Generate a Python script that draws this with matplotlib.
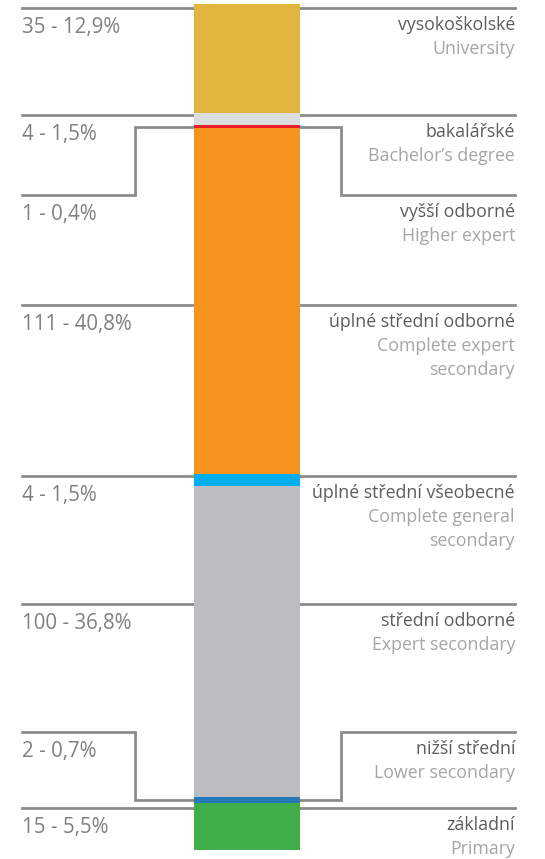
import numpy as np
import matplotlib
matplotlib.use('Agg')
import matplotlib.pyplot as plt

# data, top of the bar first
labels_cz = ['vysokoškolské', 'bakalářské', 'vyšší odborné', 'úplné střední odborné',
             'úplné střední všeobecné', 'střední odborné', 'nižší střední', 'základní']
labels_en = ['University', 'Bachelor\u2019s degree', 'Higher expert', 'Complete expert\nsecondary',
             'Complete general\nsecondary', 'Expert secondary', 'Lower secondary', 'Primary']
counts = [35, 4, 1, 111, 4, 100, 2, 15]
pct_labels = ['12,9%', '1,5%', '0,4%', '40,8%', '1,5%', '36,8%', '0,7%', '5,5%']
colors = ['#e2b53e', '#dcdddf', '#ec1c24', '#f6921e', '#00aeef', '#bcbdc0', '#2479b6', '#3fae49']

# layout (pixels, from top)
W, H = 545, 859
label_y = [8, 115, 195, 305, 476, 604, 732, 808]
stepped = {2, 6}
x_left, x_right = 22, 515
bar_l, bar_r, bar_top, bar_bot = 194, 300, 4, 850
step_l, step_r = 135, 341

line_c = '#8c8c8f'
left_c = '#808083'
cz_c = '#5c5c5f'
en_c = '#a5a5a8'
plt.rcParams['font.family'] = ['Open Sans', 'DejaVu Sans']

fig = plt.figure(figsize=(W / 100, H / 100), dpi=100)
ax = fig.add_axes([0, 0, 1, 1])
ax.set_xlim(0, W)
ax.set_ylim(H, 0)
ax.axis('off')

bax = fig.add_axes([bar_l / W, (H - bar_bot) / H, (bar_r - bar_l) / W, (bar_bot - bar_top) / H])
total = sum(counts)
bottoms = np.concatenate([[0], np.cumsum(counts)[:-1]])
bax.bar(0, counts, bottom=bottoms, width=1, color=colors, linewidth=0)
bax.set_xlim(-0.5, 0.5)
bax.set_ylim(total, 0)
bax.axis('off')
bax.patch.set_alpha(0)

# segment centres in pixel coords of the main axes
def seg_center_px(i):
    yc = bottoms[i] + counts[i] / 2
    disp = bax.transData.transform((0, yc))
    return ax.transData.inverted().transform(disp)[1]

lw = 2.0
for i, y in enumerate(label_y):
    if i in stepped:
        ys = seg_center_px(i)
        ax.plot([x_left, step_l, step_l, bar_l], [y, y, ys, ys], color=line_c, lw=lw,
                solid_joinstyle='miter')
        ax.plot([bar_r, step_r, step_r, x_right], [ys, ys, y, y], color=line_c, lw=lw,
                solid_joinstyle='miter')
    else:
        ax.plot([x_left, x_right], [y, y], color=line_c, lw=lw, zorder=0)

    ax.text(x_left, y + 25, f'{counts[i]} - {pct_labels[i]}', fontsize=14.8, color=left_c,
            ha='left', va='baseline')
    ax.text(x_right, y + 22, labels_cz[i], fontsize=12.8, color=cz_c, ha='right', va='baseline')
    for k, part in enumerate(labels_en[i].split('\n')):
        ax.text(x_right, y + 46 + 24 * k, part, fontsize=12.8, color=en_c, ha='right',
                va='baseline')

fig.savefig('out.png', dpi=100)
